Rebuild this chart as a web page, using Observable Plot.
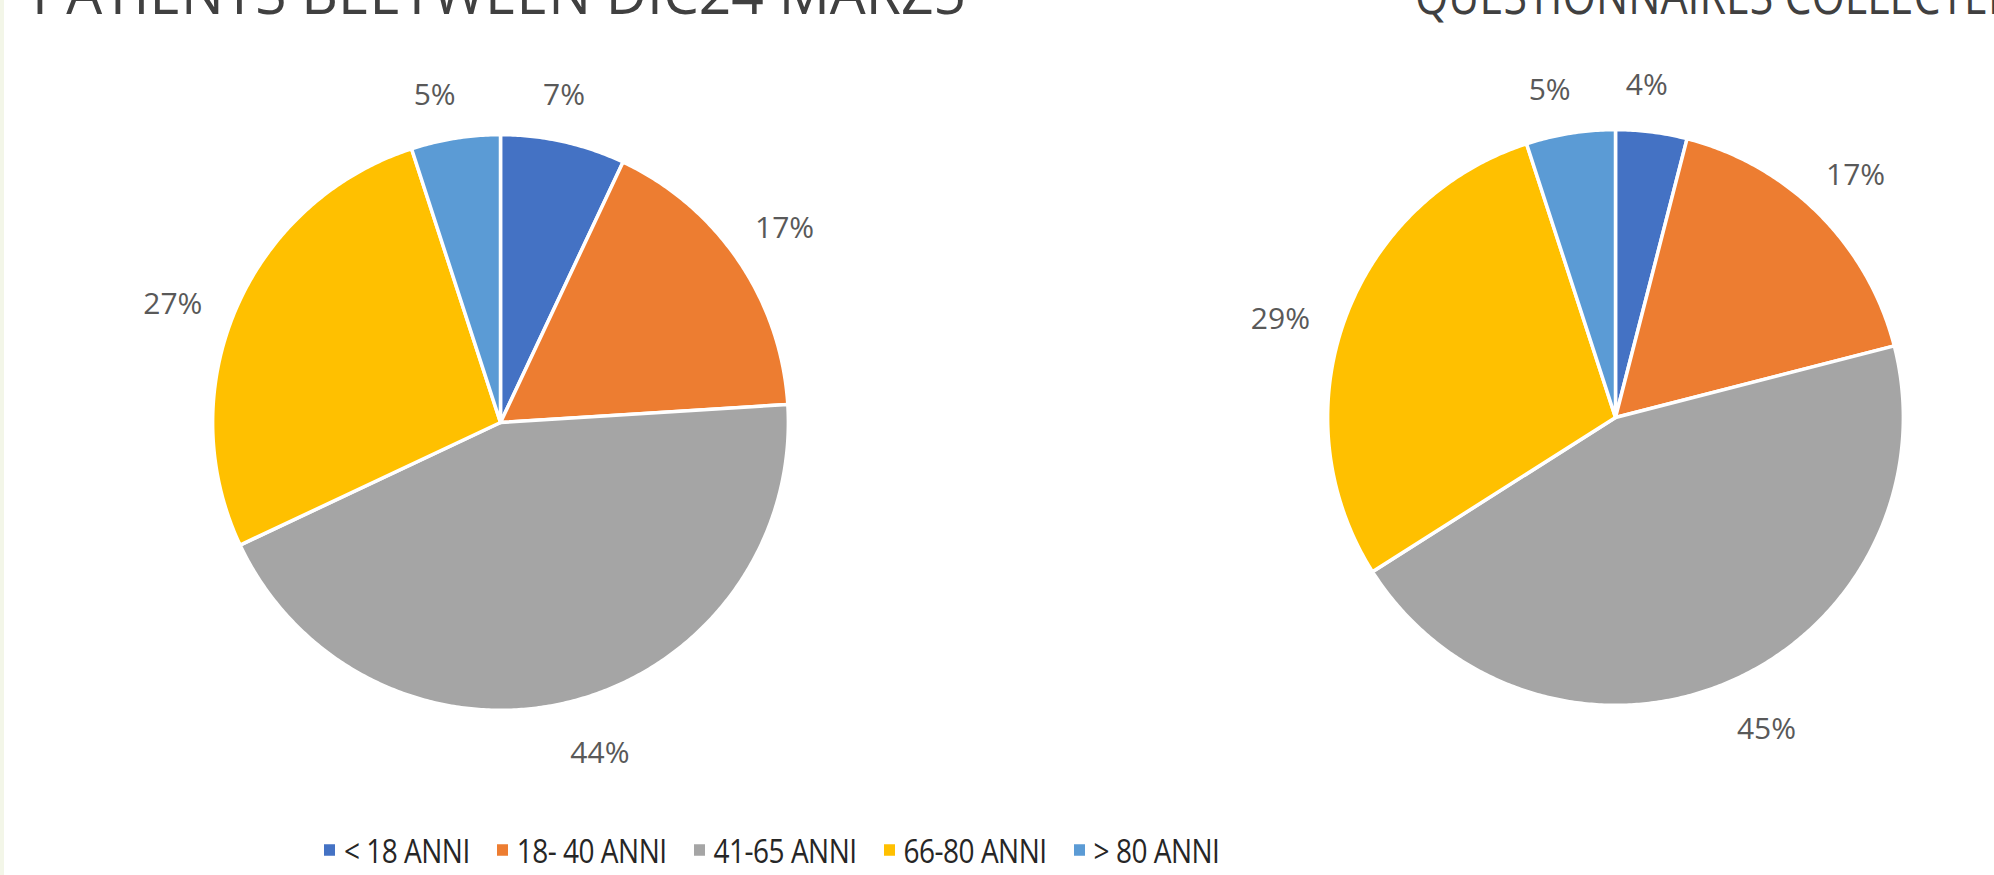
<!DOCTYPE html>
<html>
<head>
<meta charset="utf-8">
<script src="https://cdn.jsdelivr.net/npm/d3@7"></script>
<script src="https://cdn.jsdelivr.net/npm/@observablehq/plot@0.6"></script>
<style>
  html, body { margin: 0; padding: 0; background: #fff; }
  body { width: 1994px; height: 875px; overflow: hidden; position: relative; font-family: "Open Sans", sans-serif; }
  #edge { position: absolute; left: 0; top: 0; width: 4px; height: 875px; background: #f3f6e8; }
  .pie { position: absolute; }
  #legend { position: absolute; left: 324px; top: 832px; display: flex; align-items: center;
            font-family: "Open Sans", sans-serif; letter-spacing: -0.5px;
            font-size: 28px; line-height: 36px; color: #262626; white-space: nowrap;
            transform: scaleY(1.15); transform-origin: 50% 50%; }
  .item { display: flex; align-items: center; margin-right: 27px; }
  .sw { width: 11px; height: 10px; margin-right: 9px; }
</style>
</head>
<body>
<div id="edge"></div>
<svg id="titles" width="1994" height="40" style="position:absolute;left:0;top:0;overflow:hidden"></svg>
<div id="left" class="pie"></div>
<div id="right" class="pie"></div>
<div id="legend"></div>
<script>
// ---- data ----
const categories = ["< 18 ANNI", "18- 40 ANNI", "41-65 ANNI", "66-80 ANNI", "> 80 ANNI"];
const patientsValues = [7, 17, 44, 27, 5];
const questionnaireValues = [4, 17, 45, 29, 5];
const sliceColors = ["#4472C4", "#ED7D31", "#A5A5A5", "#FFC000", "#5B9BD5"];
const titles = ["PATIENTS BEETWEEN DIC24 MARZ5", "QUESTIONNAIRES COLLECTED"];

// ---- layout ----
const R = 288;            // pie radius in px
const K = 1.4;            // domain half-extent in radius units
const S = Math.round(2 * K * R);
const labelFont = 30;
const labelGap = 40;
const labelDown = 6;
const labelRot = -2 * Math.PI / 180;
const pies = [
  {el: "left", values: patientsValues, cx: 500, cy: 422},
  {el: "right", values: questionnaireValues, cx: 1615, cy: 417}
];
const titleLayout = [
  {x: 32, len: 934, size: 58},
  {x: 1415, len: 604, size: 52}
];

// titles (cropped at the top, as in the reference)
const tsvg = d3.select("#titles");
titles.forEach((t, i) => {
  tsvg.append("text")
    .attr("x", titleLayout[i].x).attr("y", 14)
    .attr("textLength", titleLayout[i].len).attr("lengthAdjust", "spacingAndGlyphs")
    .attr("font-family", "Open Sans").attr("font-size", titleLayout[i].size).attr("fill", "#404040")
    .text(t);
});

function buildPie(values) {
  const total = d3.sum(values);
  let cum = 0;
  const pts = [], labels = [];
  values.forEach((v, i) => {
    const a0 = cum / total * 2 * Math.PI; cum += v;
    const a1 = cum / total * 2 * Math.PI;
    const n = Math.max(2, Math.ceil((a1 - a0) / (Math.PI / 360)));
    pts.push({cat: categories[i], x: 0, y: 0});
    for (let k = 0; k <= n; k++) {
      const a = a0 + (a1 - a0) * k / n;
      pts.push({cat: categories[i], x: Math.sin(a), y: Math.cos(a)});
    }
    pts.push({cat: categories[i], x: 0, y: 0});
    const am = (a0 + a1) / 2 + labelRot, ux = Math.sin(am), uy = Math.cos(am);
    const text = v + "%";
    const w = ((text.length - 1) * 0.572 + 0.82) * 0.82 * labelFont;
    const h = 0.75 * labelFont;
    const px = ux * (R + labelGap) + ux * w / 2;
    const py = uy * (R + labelGap) + uy * h / 2 - labelDown;
    labels.push({text, x: px / R, y: py / R});
  });
  return {pts, labels};
}

pies.forEach(p => {
  const {pts, labels} = buildPie(p.values);
  const chart = Plot.plot({
    width: S, height: S, margin: 0,
    x: {domain: [-K, K], axis: null},
    y: {domain: [-K, K], axis: null},
    color: {domain: categories, range: sliceColors},
    style: {fontFamily: "Open Sans, sans-serif", background: "transparent", maxWidth: "none", overflow: "visible"},
    marks: [
      Plot.line(pts, {x: "x", y: "y", z: "cat", fill: "cat", stroke: "white", strokeWidth: 3.5, curve: "linear"}),
      Plot.text(labels, {x: "x", y: "y", text: "text", fontSize: labelFont, fill: "#595959",
                         textAnchor: "middle", lineAnchor: "middle"})
    ]
  });
  const div = document.getElementById(p.el);
  div.style.left = (p.cx - S / 2) + "px";
  div.style.top = (p.cy - S / 2) + "px";
  div.style.width = S + "px";
  div.style.height = S + "px";
  div.appendChild(chart);
});

// legend
const legend = d3.select("#legend");
categories.forEach((c, i) => {
  const it = legend.append("div").attr("class", "item");
  it.append("div").attr("class", "sw").style("background", sliceColors[i]);
  it.append("span").text(c);
});
</script>
</body>
</html>
